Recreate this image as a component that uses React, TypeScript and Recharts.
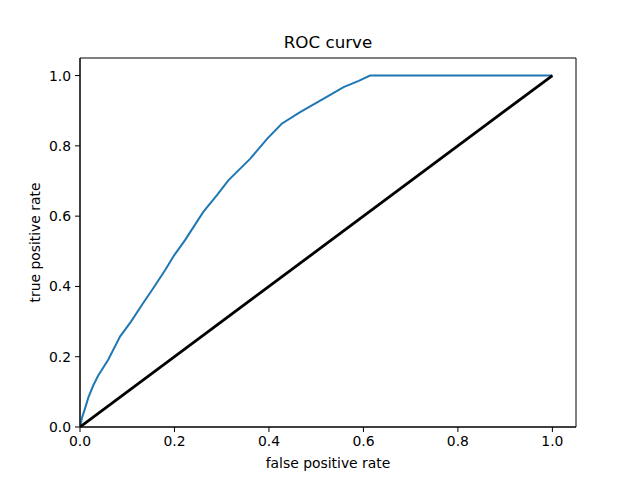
import React from 'react'
import {
  LineChart,
  Line,
  XAxis,
  YAxis,
  ReferenceArea,
} from 'recharts'

// ROC 曲线上读出的点
const fpr = [
  0, 0.004, 0.01, 0.018, 0.028, 0.038, 0.06, 0.085, 0.108, 0.131, 0.155, 0.18,
  0.2, 0.222, 0.261, 0.29, 0.314, 0.36, 0.396, 0.427, 0.466, 0.515, 0.558, 0.59,
  0.614, 1.0,
]
const tpr = [
  0, 0.025, 0.05, 0.085, 0.118, 0.145, 0.192, 0.258, 0.3, 0.347, 0.395, 0.446,
  0.49, 0.531, 0.612, 0.66, 0.702, 0.763, 0.82, 0.863, 0.896, 0.934, 0.967,
  0.985, 1.0, 1.0,
]

// 对角线
const diagX = [0, 1]
const diagY = [0, 1]

const ticks = [0, 0.2, 0.4, 0.6, 0.8, 1.0]

const rocData = fpr.map((x, i) => ({ x, y: tpr[i] }))
const diagData = diagX.map((x, i) => ({ x, y: diagY[i] }))

const FONT = 'DejaVu Sans'
const tickStyle = { fill: '#000', fontSize: 13.9, fontFamily: FONT }

export default function App() {
  return (
    <div style={{ position: 'absolute', left: 0, top: 0, width: 640, height: 480, background: '#fff' }}>
      <div
        style={{
          position: 'absolute',
          left: 0,
          width: 656,
          top: 32,
          textAlign: 'center',
          fontFamily: FONT,
          fontSize: 16.7,
          lineHeight: '20px',
          color: '#000',
        }}
      >
        ROC curve
      </div>
      <LineChart
        width={640}
        height={480}
        margin={{ top: 58, right: 64, left: 0, bottom: 0 }}
      >
        <XAxis
          type="number"
          dataKey="x"
          domain={[0, 1.05]}
          ticks={ticks}
          tickFormatter={(v: number) => v.toFixed(1)}
          tick={tickStyle}
          tickSize={5}
          tickMargin={4}
          height={53}
          stroke="#000"
          allowDataOverflow
          label={{
            value: 'false positive rate',
            position: 'insideBottom',
            offset: 12,
            style: { fill: '#000', fontSize: 13.9, fontFamily: FONT },
          }}
        />
        <YAxis
          type="number"
          dataKey="y"
          domain={[0, 1.05]}
          ticks={ticks}
          tickFormatter={(v: number) => v.toFixed(1)}
          tick={tickStyle}
          tickSize={5}
          tickMargin={4}
          width={80}
          stroke="#000"
          allowDataOverflow
          label={{
            value: 'true positive rate',
            angle: -90,
            position: 'insideLeft',
            offset: 35,
            style: { fill: '#000', fontSize: 13.9, fontFamily: FONT, textAnchor: 'middle' },
          }}
        />
        <ReferenceArea x1={0} x2={1.05} y1={0} y2={1.05} fill="none" stroke="#000" strokeWidth={1} />
        <Line
          data={rocData}
          dataKey="y"
          type="linear"
          stroke="#1f77b4"
          strokeWidth={2}
          dot={false}
          isAnimationActive={false}
        />
        <Line
          data={diagData}
          dataKey="y"
          type="linear"
          stroke="#000"
          strokeWidth={2.8}
          dot={false}
          isAnimationActive={false}
        />
      </LineChart>
    </div>
  )
}
